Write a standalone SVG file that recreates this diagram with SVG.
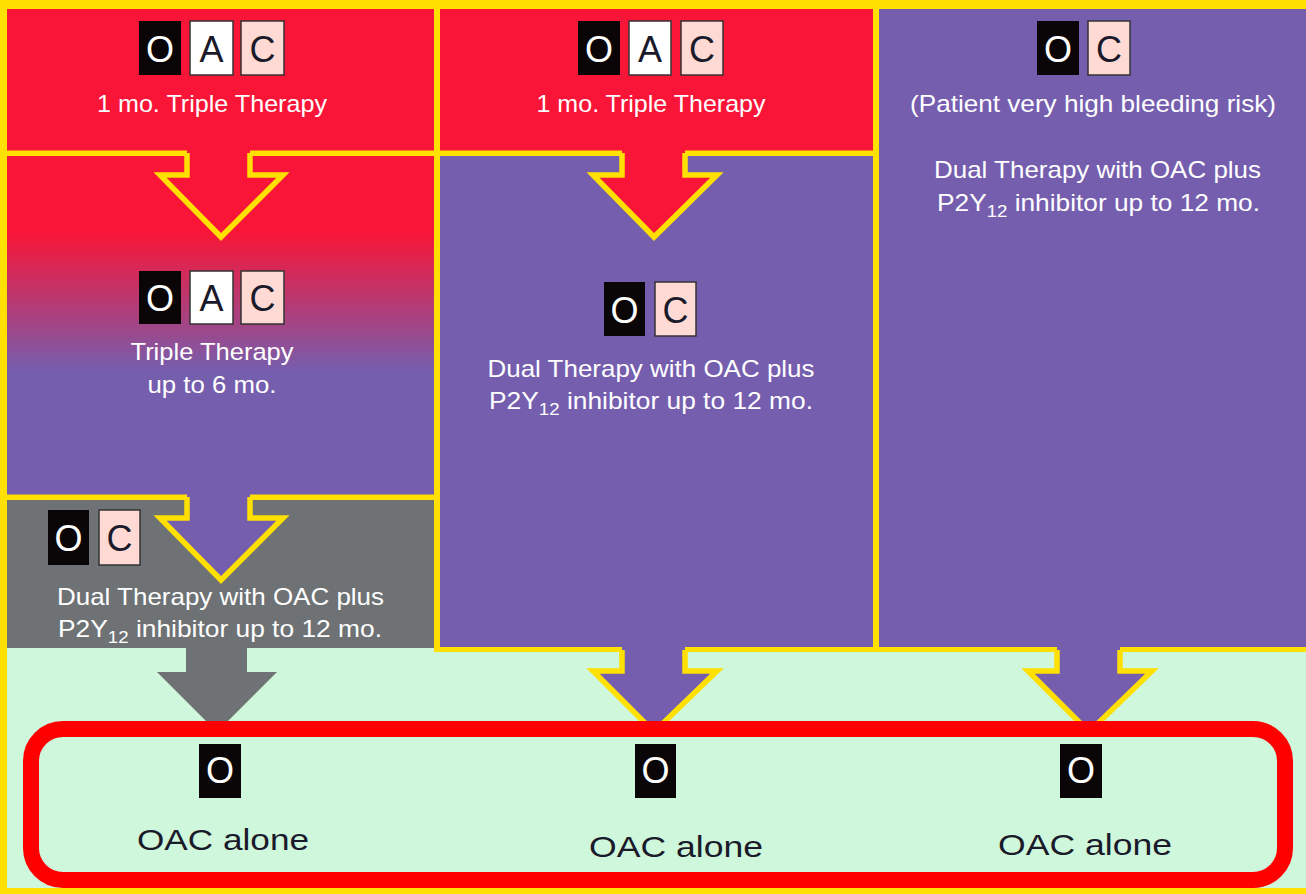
<svg xmlns="http://www.w3.org/2000/svg" width="1306" height="894" viewBox="0 0 1306 894">
<defs>
<linearGradient id="g1" gradientUnits="userSpaceOnUse" x1="0" y1="232" x2="0" y2="372">
<stop offset="0" stop-color="#F91537"/>
<stop offset="1" stop-color="#755EAE"/>
</linearGradient>
<style>
.red{fill:#F91537}
.pur{fill:#755EAE}
.gray{fill:#6E7275}
.green{fill:#CEF7DB}
.ol{fill:none;stroke:#FFE000;stroke-width:5.5;stroke-linejoin:miter}
.bo{fill:#0A0506}
.ba{fill:#FFFFFF;stroke:#333;stroke-width:1.5}
.bc{fill:#FFDAD5;stroke:#333;stroke-width:1.5}
.lw{font-family:"Liberation Sans",Arial,sans-serif;font-size:36px;fill:#FFFFFF;text-anchor:middle}
.ld{font-family:"Liberation Sans",Arial,sans-serif;font-size:36px;fill:#1A1A2A;text-anchor:middle}
.t{font-family:"Liberation Sans",Arial,sans-serif;font-size:24px;fill:#FFFFFF;text-anchor:middle}
.sub{font-size:17px}
.bt{font-family:"Liberation Sans",Arial,sans-serif;font-size:30px;fill:#1A1A2A;text-anchor:middle}
</style>
</defs>
<rect x="0" y="0" width="1306" height="894" fill="#FFE000"/>
<g id="regions">
<path class="green" d="M7,648 L434,648 L434,652 L1320,652 L1320,888 L7,888 Z"/>
<rect class="red" x="7" y="9" width="427" height="141.5"/>
<rect fill="url(#g1)" x="7" y="156" width="427" height="338.5"/>
<rect class="gray" x="7" y="500" width="427" height="148"/>
<rect class="red" x="440" y="9" width="433" height="141.5"/>
<rect class="pur" x="440" y="156" width="433" height="491"/>
<rect class="pur" x="879" y="9" width="440" height="638"/>
</g>
<g id="connectors">
<path class="red" d="M187,150 L187,175 L160,175 L221,237 L283,175 L250,175 L250,150 Z"/>
<path class="ol" d="M187,153 L187,175 L160,175 L221,237 L283,175 L250,175 L250,153"/>
<path class="pur" d="M187,494 L187,518 L160,518 L221,580 L283,518 L250,518 L250,494 Z"/>
<path class="ol" d="M187,497 L187,518 L160,518 L221,580 L283,518 L250,518 L250,497"/>
<path class="red" d="M622,150 L622,175 L593,175 L654,237 L717,175 L685,175 L685,150 Z"/>
<path class="ol" d="M622,153 L622,175 L593,175 L654,237 L717,175 L685,175 L685,153"/>
<path class="gray" d="M186,646 L186,672 L157,672 L217,732 L277,672 L247,672 L247,646 Z"/>
<path class="pur" d="M622,645 L622,671 L593,671 L654,732 L717,671 L685,671 L685,645 Z"/>
<path class="ol" d="M622,650 L622,671 L593,671 L654,732 L717,671 L685,671 L685,650"/>
<path class="pur" d="M1057,645 L1057,671 L1028,671 L1089,732 L1152,671 L1120,671 L1120,645 Z"/>
<path class="ol" d="M1057,650 L1057,671 L1028,671 L1089,732 L1152,671 L1120,671 L1120,650"/>
</g>
<g id="outcome-box">
<rect x="31" y="729" width="1254" height="151" rx="32" ry="32" fill="#CEF7DB" stroke="#FF0000" stroke-width="16"/>
</g>
<g id="node-c1-top">
<rect class="bo" x="139" y="21" width="42" height="54"/><text class="lw" x="160" y="62">O</text>
<rect class="ba" x="190" y="21" width="43" height="54"/><text class="ld" x="211.5" y="62">A</text>
<rect class="bc" x="241" y="21" width="43" height="54"/><text class="ld" x="262.5" y="62">C</text>
<text class="t" x="212" y="112" textLength="230" lengthAdjust="spacingAndGlyphs">1 mo. Triple Therapy</text>
</g>
<g id="node-c1-mid">
<rect class="bo" x="139" y="271" width="42" height="53"/><text class="lw" x="160" y="311">O</text>
<rect class="ba" x="190" y="271" width="43" height="53"/><text class="ld" x="211.5" y="311">A</text>
<rect class="bc" x="241" y="271" width="43" height="53"/><text class="ld" x="262.5" y="311">C</text>
<text class="t" x="212" y="360" textLength="163" lengthAdjust="spacingAndGlyphs">Triple Therapy</text>
<text class="t" x="212" y="393" textLength="129" lengthAdjust="spacingAndGlyphs">up to 6 mo.</text>
</g>
<g id="node-c1-dual">
<rect class="bo" x="48" y="510" width="41" height="55"/><text class="lw" x="68.5" y="551">O</text>
<rect class="bc" x="99" y="510" width="41" height="55"/><text class="ld" x="119.5" y="551">C</text>
<text class="t" x="220.5" y="605" textLength="327" lengthAdjust="spacingAndGlyphs">Dual Therapy with OAC plus</text>
<text class="t" x="220" y="637" textLength="324" lengthAdjust="spacingAndGlyphs">P2Y<tspan class="sub" dy="6">12</tspan><tspan dy="-6"> inhibitor up to 12 mo.</tspan></text>
</g>
<g id="node-c2-top">
<rect class="bo" x="578" y="21" width="42" height="54"/><text class="lw" x="599" y="62">O</text>
<rect class="ba" x="629" y="21" width="42" height="54"/><text class="ld" x="650" y="62">A</text>
<rect class="bc" x="681" y="21" width="42" height="54"/><text class="ld" x="702" y="62">C</text>
<text class="t" x="651" y="112" textLength="229" lengthAdjust="spacingAndGlyphs">1 mo. Triple Therapy</text>
</g>
<g id="node-c2-dual">
<rect class="bo" x="604" y="282" width="41" height="54"/><text class="lw" x="624.5" y="323">O</text>
<rect class="bc" x="655" y="282" width="41" height="54"/><text class="ld" x="675.5" y="323">C</text>
<text class="t" x="651" y="377" textLength="327" lengthAdjust="spacingAndGlyphs">Dual Therapy with OAC plus</text>
<text class="t" x="651" y="409" textLength="324" lengthAdjust="spacingAndGlyphs">P2Y<tspan class="sub" dy="6">12</tspan><tspan dy="-6"> inhibitor up to 12 mo.</tspan></text>
</g>
<g id="node-c3">
<rect class="bo" x="1037" y="21" width="42" height="54"/><text class="lw" x="1058" y="62">O</text>
<rect class="bc" x="1088" y="21" width="42" height="54"/><text class="ld" x="1109" y="62">C</text>
<text class="t" x="1093" y="112" textLength="366" lengthAdjust="spacingAndGlyphs">(Patient very high bleeding risk)</text>
<text class="t" x="1097.5" y="178" textLength="327" lengthAdjust="spacingAndGlyphs">Dual Therapy with OAC plus</text>
<text class="t" x="1098.5" y="211" textLength="323" lengthAdjust="spacingAndGlyphs">P2Y<tspan class="sub" dy="6">12</tspan><tspan dy="-6"> inhibitor up to 12 mo.</tspan></text>
</g>
<g id="node-oac1">
<rect class="bo" x="199" y="744" width="42" height="54"/><text class="lw" x="220" y="783" font-size="34">O</text>
<text class="bt" x="223" y="850" textLength="172" lengthAdjust="spacingAndGlyphs">OAC alone</text>
</g>
<g id="node-oac2">
<rect class="bo" x="635" y="744" width="41" height="54"/><text class="lw" x="655.5" y="783" font-size="34">O</text>
<text class="bt" x="676" y="857" textLength="174" lengthAdjust="spacingAndGlyphs">OAC alone</text>
</g>
<g id="node-oac3">
<rect class="bo" x="1060" y="744" width="42" height="54"/><text class="lw" x="1081" y="783" font-size="34">O</text>
<text class="bt" x="1085" y="855" textLength="174" lengthAdjust="spacingAndGlyphs">OAC alone</text>
</g>
</svg>
